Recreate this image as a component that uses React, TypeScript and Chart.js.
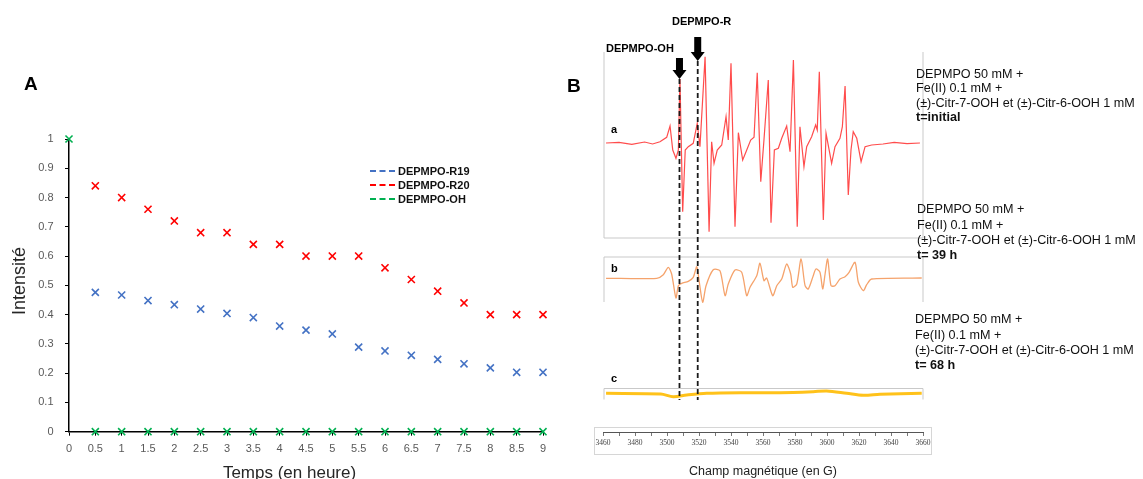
import React, { useEffect, useRef } from "react";
import { Chart, registerables } from "chart.js";

Chart.register(...registerables);
Chart.defaults.font.family = '"Liberation Sans", Arial, sans-serif';

// ---------------- Panel A data ----------------
const timeTicks = [0, 0.5, 1, 1.5, 2, 2.5, 3, 3.5, 4, 4.5, 5, 5.5, 6, 6.5, 7, 7.5, 8, 8.5, 9];
const intensityTicks = [0, 0.1, 0.2, 0.3, 0.4, 0.5, 0.6, 0.7, 0.8, 0.9, 1];
const radicalTimes = [0.5, 1, 1.5, 2, 2.5, 3, 3.5, 4, 4.5, 5, 5.5, 6, 6.5, 7, 7.5, 8, 8.5, 9];
const r19Values = [0.476, 0.467, 0.448, 0.434, 0.419, 0.404, 0.39, 0.361, 0.347, 0.334, 0.289, 0.276, 0.261, 0.247, 0.232, 0.218, 0.203, 0.203];
const r20Values = [0.84, 0.8, 0.76, 0.72, 0.68, 0.68, 0.64, 0.64, 0.6, 0.6, 0.6, 0.56, 0.52, 0.48, 0.44, 0.4, 0.4, 0.4];
const ohTimes = [0, 0.5, 1, 1.5, 2, 2.5, 3, 3.5, 4, 4.5, 5, 5.5, 6, 6.5, 7, 7.5, 8, 8.5, 9];
const ohValues = [1, 0, 0, 0, 0, 0, 0, 0, 0, 0, 0, 0, 0, 0, 0, 0, 0, 0, 0];
const seriesLabels = ["DEPMPO-R19", "DEPMPO-R20", "DEPMPO-OH"];
const seriesColors = ["#4472C4", "#FF0000", "#00B050"];

// ---------------- Panel B data (EPR spectra, field in G) ----------------
const fieldTicks = [3460, 3470, 3480, 3490, 3500, 3510, 3520, 3530, 3540, 3550, 3560, 3570, 3580, 3590, 3600, 3610, 3620, 3630, 3640, 3650, 3660];
const fieldA = [3461.9, 3470, 3478, 3486, 3491, 3495.6, 3499.8, 3501.9, 3503.6, 3505.6, 3507.1, 3508.1, 3509.8, 3511.4, 3513.3, 3516.4, 3518.9, 3520.6, 3523.8, 3526.3, 3527.9, 3529.4, 3531.4, 3534.2, 3536.9, 3538.3, 3540.0, 3542.5, 3544.6, 3547.3, 3549.4, 3552.3, 3554.4, 3556.4, 3558.6, 3560.6, 3563.3, 3565.0, 3567.1, 3569.6, 3571.7, 3574.8, 3576.9, 3579.0, 3581.4, 3583.1, 3585.6, 3587.3, 3590.4, 3592.9, 3593.9, 3595.2, 3597.7, 3599.4, 3602.9, 3605.0, 3608.1, 3609.6, 3611.3, 3613.3, 3615.0, 3616.4, 3618.6, 3621.3, 3623.8, 3627.9, 3635, 3642, 3650, 3658.1];
const signalA = [0, 0.7, -1.3, 1, -1, 1.3, 5.7, 17, -7, -15.3, -7, 64, -68.7, -7, -3.7, -0.3, 19.7, -3.7, 86.3, -88.7, 1.3, -20.3, -7, -2, 26.3, 3, 79.7, -83.7, 10.3, -17, -8.7, 3, 5.7, 70.3, -38.7, 3, 63, -79.7, -7, -5.3, 4.7, 17, -8.7, 83, -83.7, 16.3, -23.7, -3.7, 6.3, 18, 13, 71.3, -77, 9.7, -20.3, -3.7, 4.7, 16.3, 57, -52, -7, 11.3, 4.7, -18.7, -3.7, -2, -1, 0.7, -0.7, 0];
const fieldB = [3461.9, 3493.6, 3497.7, 3500.8, 3502.9, 3505.6, 3507.1, 3509.2, 3513.3, 3516.4, 3518.6, 3520.2, 3522.3, 3524.4, 3528.9, 3533.1, 3536.3, 3538.3, 3542.5, 3546.7, 3549.8, 3551.9, 3556.1, 3558.1, 3560.6, 3562.3, 3566.1, 3568.6, 3571.7, 3574.8, 3577.3, 3578.6, 3581.1, 3583.8, 3586.3, 3588.3, 3591.4, 3593.1, 3595.6, 3597.3, 3598.8, 3600.4, 3602.5, 3605.0, 3608.1, 3611.3, 3613.8, 3617.5, 3619.6, 3622.7, 3624.8, 3627.9, 3659.2];
const signalB = [0, 0, 3.6, 11, 4.3, -19.7, -7.4, -5, -3, 1, 11.6, -4, -24, -7.4, 8.6, 7.6, -17.4, -5.7, 8.3, 6, -17.4, -9, 2.6, 15, -2.4, 0.3, -17.4, -7.4, -0.7, 14.3, 4.3, -9, -5.7, 19.3, -7.4, -10.7, 2.6, 9.3, 6, -10.7, 4.3, 19.3, -7.4, -7.4, -0.7, 1.6, 6, 16, -4, -12.4, -6.4, -0.7, 0.3];
const fieldC = [3461.9, 3496.1, 3503.9, 3512.3, 3524.8, 3549.8, 3570.6, 3591.4, 3599.8, 3612.3, 3622.7, 3633.1, 3659.2];
const signalC = [0, -0.7, -3.4, -1.7, 0, 0.6, 0.6, 1.6, 2.3, 0, -2, -1, 0];
const markerFields = [3507.8, 3519.2];
const markerLabels = ["DEPMPO-OH", "DEPMPO-R"];
const spectrumLetters = ["a", "b", "c"];
const conditionLines = ["DEPMPO 50 mM +", "Fe(II) 0.1 mM +", "(\u00B1)-Citr-7-OOH et (\u00B1)-Citr-6-OOH 1 mM"];
const timeLabels = ["t=initial", "t= 39 h", "t= 68 h"];

const SANS = '"Liberation Sans", Arial, sans-serif';

function pts(xs: number[], ys: number[]) {
  return xs.map((x, i) => ({ x, y: ys[i] }));
}

// ---------------- Panel A plugin ----------------
const panelAPlugin = {
  id: "panelADecor",
  afterDraw(chart: any) {
    const ctx = chart.ctx as CanvasRenderingContext2D;
    ctx.save();
    ctx.fillStyle = "#000";
    ctx.font = `bold 19px ${SANS}`;
    ctx.textAlign = "left";
    ctx.textBaseline = "alphabetic";
    ctx.fillText("A", 24, 90);

    ctx.fillStyle = "#262626";
    ctx.textAlign = "center";
    ctx.textBaseline = "middle";
    ctx.font = `18px ${SANS}`;
    ctx.save();
    ctx.translate(20, 281);
    ctx.rotate(-Math.PI / 2);
    ctx.fillText("Intensit\u00E9", 0, 0);
    ctx.restore();
    ctx.font = `17px ${SANS}`;
    ctx.fillText("Temps (en heure)", 289.5, 473);

    chart.data.datasets.forEach((ds: any, i: number) => {
      const y = 171 + i * 14;
      ctx.strokeStyle = ds.borderColor;
      ctx.lineWidth = 2;
      ctx.setLineDash([6, 3.5]);
      ctx.beginPath();
      ctx.moveTo(370, y);
      ctx.lineTo(395, y);
      ctx.stroke();
      ctx.setLineDash([]);
      ctx.fillStyle = "#111";
      ctx.font = `bold 11px ${SANS}`;
      ctx.textAlign = "left";
      ctx.textBaseline = "middle";
      ctx.fillText(ds.label, 398, y + 0.5);
    });
    ctx.restore();
  },
};

// ---------------- Panel B plugin ----------------
function line(ctx: CanvasRenderingContext2D, x1: number, y1: number, x2: number, y2: number) {
  ctx.beginPath();
  ctx.moveTo(x1, y1);
  ctx.lineTo(x2, y2);
  ctx.stroke();
}

function arrow(ctx: CanvasRenderingContext2D, x: number, shaftTop: number, headTop: number, tip: number) {
  ctx.beginPath();
  ctx.moveTo(x - 3.5, shaftTop);
  ctx.lineTo(x + 3.5, shaftTop);
  ctx.lineTo(x + 3.5, headTop);
  ctx.lineTo(x + 7, headTop);
  ctx.lineTo(x, tip);
  ctx.lineTo(x - 7, headTop);
  ctx.lineTo(x - 3.5, headTop);
  ctx.closePath();
  ctx.fill();
}

const panelBPlugin = {
  id: "panelBDecor",
  beforeDatasetsDraw(chart: any) {
    const ctx = chart.ctx as CanvasRenderingContext2D;
    const { left, right } = chart.chartArea;
    const L = left + 1;
    ctx.save();
    ctx.strokeStyle = "#C9C9C9";
    ctx.lineWidth = 1;
    // frame a
    line(ctx, L, 52, L, 238);
    line(ctx, L, 238, right, 238);
    line(ctx, right, 52, right, 238);
    // frame b
    line(ctx, L, 257, right, 257);
    line(ctx, L, 257, L, 302);
    line(ctx, right, 257, right, 302);
    // frame c
    line(ctx, L, 388.5, right, 388.5);
    line(ctx, L, 388.5, L, 399.5);
    line(ctx, right, 388.5, right, 399.5);
    // axis box
    ctx.strokeStyle = "#D6D6D6";
    ctx.strokeRect(34.5, 427.5, 337, 27);
    ctx.restore();
  },
  afterDatasetsDraw(chart: any) {
    const ctx = chart.ctx as CanvasRenderingContext2D;
    const xs = chart.scales.x;
    const tips = [79, 61];
    const headTops = [70, 52];
    const shaftTops = [58, 37];
    ctx.save();
    markerFields.forEach((f, i) => {
      const x = xs.getPixelForValue(f);
      ctx.strokeStyle = "#1a1a1a";
      ctx.lineWidth = 1.8;
      ctx.setLineDash([5, 3]);
      line(ctx, x, tips[i], x, 400);
      ctx.setLineDash([]);
      ctx.fillStyle = "#000";
      arrow(ctx, x, shaftTops[i], headTops[i], tips[i]);
    });
    ctx.restore();
  },
  afterDraw(chart: any) {
    const ctx = chart.ctx as CanvasRenderingContext2D;
    ctx.save();
    ctx.fillStyle = "#000";
    ctx.textAlign = "left";
    ctx.textBaseline = "alphabetic";
    ctx.font = `bold 19px ${SANS}`;
    ctx.fillText("B", 7, 92);
    ctx.font = `bold 11px ${SANS}`;
    ctx.fillText(markerLabels[0], 46, 51.5);
    ctx.fillText(markerLabels[1], 112, 25);
    const letterY = [133, 272, 381.5];
    spectrumLetters.forEach((l, i) => ctx.fillText(l, 51, letterY[i]));

    const blockX = [356, 357, 355];
    const blockY = [78.3, 213.3, 323.3];
    const step = [14.1, 15.3, 15.3];
    timeLabels.forEach((t, b) => {
      ctx.fillStyle = "#111";
      ctx.font = `12.6px ${SANS}`;
      conditionLines.forEach((ln, k) => ctx.fillText(ln, blockX[b], blockY[b] + k * step[b]));
      ctx.font = `bold 12.6px ${SANS}`;
      ctx.fillText(t, blockX[b], blockY[b] + 3 * step[b]);
    });
    ctx.restore();
  },
};

export default function App() {
  const aRef = useRef<HTMLCanvasElement>(null);
  const bRef = useRef<HTMLCanvasElement>(null);

  useEffect(() => {
    const valueSets = [r19Values, r20Values, ohValues];
    const timeSets = [radicalTimes, radicalTimes, ohTimes];
    const chartA = new Chart(aRef.current as HTMLCanvasElement, {
      type: "scatter",
      data: {
        datasets: seriesLabels.map((label, i) => ({
          label,
          data: pts(timeSets[i], valueSets[i]),
          borderColor: seriesColors[i],
          backgroundColor: seriesColors[i],
          pointStyle: "crossRot",
          pointRadius: 5,
          pointBorderWidth: 1.6,
          showLine: false,
          clip: false,
        })),
      },
      options: {
        animation: false,
        responsive: false,
        maintainAspectRatio: false,
        events: [],
        layout: { padding: { left: 0, top: 139, right: 17, bottom: 0 } },
        plugins: { legend: { display: false }, tooltip: { enabled: false } },
        scales: {
          x: {
            type: "linear",
            min: 0,
            max: 9,
            afterBuildTicks: (s: any) => {
              s.ticks = timeTicks.map((v) => ({ value: v }));
            },
            afterFit: (s: any) => {
              s.height = 47.3;
            },
            grid: { drawOnChartArea: false, drawTicks: true, tickLength: 4, color: "#000", lineWidth: 1 },
            border: { color: "#000", width: 1.5 },
            ticks: {
              autoSkip: false,
              maxRotation: 0,
              padding: 6.5,
              color: "#595959",
              font: { size: 11 },
              callback: (v: any) => String(v),
            },
          },
          y: {
            min: 0,
            max: 1,
            afterBuildTicks: (s: any) => {
              s.ticks = intensityTicks.map((v) => ({ value: v }));
            },
            afterFit: (s: any) => {
              s.width = 69;
            },
            grid: { drawOnChartArea: false, drawTicks: true, tickLength: 4, color: "#000", lineWidth: 1 },
            border: { color: "#000", width: 1.5 },
            ticks: {
              padding: 11.5,
              color: "#595959",
              font: { size: 11 },
              callback: (v: any) => String(Math.round(Number(v) * 10) / 10),
            },
          },
        },
      },
      plugins: [panelAPlugin],
    } as any);

    const chartB = new Chart(bRef.current as HTMLCanvasElement, {
      type: "line",
      data: {
        datasets: [
          { label: "a", data: pts(fieldA, signalA), yAxisID: "ya", borderColor: "rgba(255,45,45,0.85)", borderWidth: 1.2, pointRadius: 0, tension: 0 },
          { label: "b", data: pts(fieldB, signalB), yAxisID: "yb", borderColor: "#F5A36C", borderWidth: 1.3, pointRadius: 0, tension: 0.25 },
          { label: "c", data: pts(fieldC, signalC), yAxisID: "yc", borderColor: "#FFC21A", borderWidth: 3, pointRadius: 0, tension: 0.3 },
        ],
      },
      options: {
        animation: false,
        responsive: false,
        maintainAspectRatio: false,
        events: [],
        layout: { padding: { left: 43, right: 220, top: 52, bottom: 0 } },
        plugins: { legend: { display: false }, tooltip: { enabled: false } },
        scales: {
          x: {
            type: "linear",
            min: 3460,
            max: 3660,
            afterBuildTicks: (s: any) => {
              s.ticks = fieldTicks.map((v) => ({ value: v }));
            },
            afterFit: (s: any) => {
              s.height = 47;
            },
            grid: { drawOnChartArea: false, drawTicks: true, tickLength: 4, color: "#777", lineWidth: 1 },
            border: { color: "#555", width: 1 },
            ticks: {
              autoSkip: false,
              maxRotation: 0,
              padding: 3,
              color: "#444",
              font: { size: 7.5, family: '"Liberation Serif", serif' },
              callback: (v: any) => (Number(v) % 20 === 0 ? String(v) : ""),
            },
            title: {
              display: true,
              text: "Champ magn\u00E9tique (en G)",
              color: "#222",
              font: { size: 12.5 },
              padding: { top: 0, bottom: 0 },
            },
          },
          ya: { display: false, min: -289, max: 91 },
          yb: { display: false, min: -153.7, max: 226.3 },
          yc: { display: false, min: -38.7, max: 341.3 },
        },
      },
      plugins: [panelBPlugin],
    } as any);

    return () => {
      chartA.destroy();
      chartB.destroy();
    };
  }, []);

  return (
    <div style={{ position: "fixed", left: 0, top: 0, width: 1143, height: 479, overflow: "hidden", background: "#fff" }}>
      <canvas ref={aRef} width={560} height={479} style={{ position: "absolute", left: 0, top: 0, width: 560, height: 479 }} />
      <canvas ref={bRef} width={583} height={479} style={{ position: "absolute", left: 560, top: 0, width: 583, height: 479 }} />
    </div>
  );
}
